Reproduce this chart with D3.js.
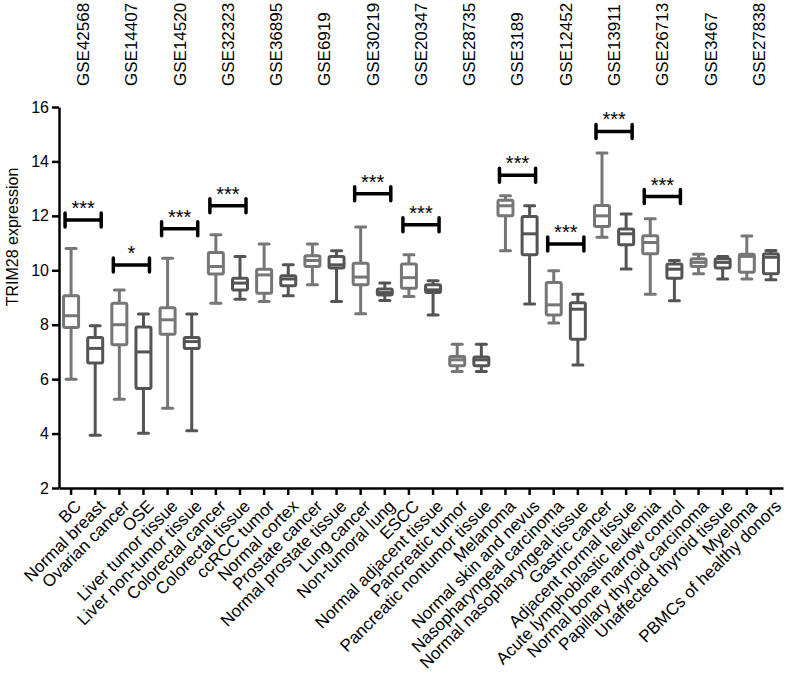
<!DOCTYPE html>
<html>
<head>
<meta charset="utf-8">
<script src="https://cdn.jsdelivr.net/npm/d3@7"></script>
<style>
  body { margin: 0; background: #fff; }
  text { font-family: "Liberation Sans", Arial, sans-serif; fill: #000; }
</style>
</head>
<body>
<script>
// categories along the x axis
const categories = ["BC", "Normal breast", "Ovarian cancer", "OSE", "Liver tumor tissue", "Liver non-tumor tissue",
  "Colorectal cancer", "Colorectal tissue", "ccRCC tumor", "Normal cortex", "Prostate cancer", "Normal prostate tissue",
  "Lung cancer", "Non-tumoral lung", "ESCC", "Normal adjacent tissue", "Pancreatic tumor", "Pancreatic nontumor tissue",
  "Melanoma", "Normal skin and nevus", "Nasopharyngeal carcinoma", "Normal nasopharyngeal tissue", "Gastric cancer",
  "Adjacent normal tissue", "Acute lymphoblastic leukemia", "Normal bone marrow control", "Papillary thyroid carcinoma",
  "Unaffected thyroid tissue", "Myeloma", "PBMCs of healthy donors"];

// one dataset per pair of categories
const datasets = ["GSE42568", "GSE14407", "GSE14520", "GSE32323", "GSE36895", "GSE6919", "GSE30219", "GSE20347",
  "GSE28735", "GSE3189", "GSE12452", "GSE13911", "GSE26713", "GSE3467", "GSE27838"];

// box plot values
const whiskerHigh = [10.8, 7.96, 9.28, 8.39, 10.44, 8.39, 11.31, 10.51, 10.97, 10.2, 10.97, 10.72, 11.59, 9.53, 10.57,
  9.62, 7.28, 7.28, 12.74, 12.37, 9.98, 9.12, 14.31, 12.07, 11.89, 10.36, 10.59, 10.51, 11.26, 10.73];
const q3 = [9.06, 7.53, 8.79, 7.92, 8.62, 7.53, 10.65, 9.71, 10.04, 9.8, 10.53, 10.51, 10.26, 9.31, 10.23,
  9.47, 6.83, 6.81, 12.57, 11.98, 9.55, 8.81, 12.38, 11.52, 11.27, 10.23, 10.42, 10.42, 10.59, 10.61];
const median = [8.33, 7.13, 8.0, 7.0, 8.18, 7.38, 10.14, 9.53, 9.83, 9.68, 10.36, 10.2, 9.75, 9.18, 9.73,
  9.28, 6.71, 6.71, 12.37, 11.34, 8.73, 8.57, 12.0, 11.34, 11.02, 10.04, 10.29, 10.29, 10.51, 10.48];
const q1 = [7.9, 6.59, 7.26, 5.66, 7.65, 7.13, 9.86, 9.28, 9.16, 9.43, 10.14, 10.08, 9.47, 9.09, 9.34,
  9.18, 6.49, 6.49, 12.0, 10.57, 8.36, 7.47, 11.61, 10.94, 10.61, 9.71, 10.14, 10.08, 9.93, 9.87];
const whiskerLow = [6.0, 3.94, 5.26, 4.01, 4.93, 4.1, 8.79, 8.94, 8.85, 9.06, 9.47, 8.85, 8.4, 8.89, 9.04,
  8.36, 6.28, 6.28, 10.72, 8.76, 8.06, 6.52, 11.21, 10.05, 9.12, 8.88, 9.87, 9.68, 9.68, 9.65];

// significance brackets: first category index, bracket level, label
const sigFirst = [0, 2, 4, 6, 12, 14, 18, 20, 22, 24];
const sigLevel = [11.85, 10.19, 11.53, 12.37, 12.81, 11.67, 13.49, 10.97, 15.1, 12.71];
const sigLabel = ["***", "*", "***", "***", "***", "***", "***", "***", "***", "***"];

const yTicks = [2, 4, 6, 8, 10, 12, 14, 16];

const width = 789, height = 673;
const svg = d3.select("body").append("svg").attr("width", width).attr("height", height);

const x = d3.scaleBand().domain(categories).range([59, 783]).padding(0);
const y = d3.scaleLinear().domain([2, 16]).range([488, 107]);
const cx = (d) => x(d) + x.bandwidth() / 2;

const boxW = 15, capW = 10;
const lightGray = "#767676", darkGray = "#545454";

// y axis
const yAxis = svg.append("g")
    .attr("transform", "translate(59,0)")
    .call(d3.axisLeft(y).tickValues(yTicks).tickSize(7).tickSizeOuter(0).tickPadding(3));
yAxis.selectAll("path, line").attr("stroke", "#000").attr("stroke-width", 2.5);
yAxis.selectAll("text").attr("font-size", 16).attr("font-family", "Liberation Sans, Arial, sans-serif").attr("fill", "#000");

// x axis
const xAxis = svg.append("g")
    .attr("transform", "translate(0,488)")
    .call(d3.axisBottom(x).tickSize(7).tickSizeOuter(0).tickFormat(""));
xAxis.selectAll("path, line").attr("stroke", "#000").attr("stroke-width", 2.5);

// x labels
svg.append("g").selectAll("text")
    .data(categories)
    .enter()
    .append("text")
    .attr("transform", (d) => "translate(" + (cx(d) + 7) + ",503) rotate(-45)")
    .attr("text-anchor", "end")
    .attr("dy", "0.35em")
    .attr("font-size", 17)
    .text((d) => d);

// dataset labels on top
svg.append("g").selectAll("text")
    .data(datasets)
    .enter()
    .append("text")
    .attr("transform", (d, i) => "translate(" + ((cx(categories[2 * i]) + cx(categories[2 * i + 1])) / 2) + ",86) rotate(-90)")
    .attr("text-anchor", "start")
    .attr("dy", "0.35em")
    .attr("font-size", 17)
    .text((d) => d);

// axis title
svg.append("text")
    .attr("transform", "translate(12,237) rotate(-90)")
    .attr("text-anchor", "middle")
    .attr("dy", "0.35em")
    .attr("font-size", 16)
    .text("TRIM28 expression");

// boxes
const box = svg.append("g").selectAll("g")
    .data(categories)
    .enter()
    .append("g")
    .attr("stroke", (d, i) => i % 2 === 0 ? lightGray : darkGray)
    .attr("stroke-width", 3)
    .attr("fill", "none");

box.append("line")
    .attr("x1", (d) => cx(d)).attr("x2", (d) => cx(d))
    .attr("y1", (d, i) => y(whiskerHigh[i])).attr("y2", (d, i) => y(q3[i]));
box.append("line")
    .attr("x1", (d) => cx(d)).attr("x2", (d) => cx(d))
    .attr("y1", (d, i) => y(q1[i])).attr("y2", (d, i) => y(whiskerLow[i]));
box.append("line")
    .attr("stroke-linecap", "round")
    .attr("x1", (d) => cx(d) - capW / 2).attr("x2", (d) => cx(d) + capW / 2)
    .attr("y1", (d, i) => y(whiskerHigh[i])).attr("y2", (d, i) => y(whiskerHigh[i]));
box.append("line")
    .attr("stroke-linecap", "round")
    .attr("x1", (d) => cx(d) - capW / 2).attr("x2", (d) => cx(d) + capW / 2)
    .attr("y1", (d, i) => y(whiskerLow[i])).attr("y2", (d, i) => y(whiskerLow[i]));
box.append("rect")
    .attr("x", (d) => cx(d) - boxW / 2)
    .attr("width", boxW)
    .attr("y", (d, i) => y(q3[i]))
    .attr("height", (d, i) => y(q1[i]) - y(q3[i]))
    .attr("rx", 1.5)
    .attr("fill", "#fff");
box.append("line")
    .attr("x1", (d) => cx(d) - boxW / 2).attr("x2", (d) => cx(d) + boxW / 2)
    .attr("y1", (d, i) => y(median[i])).attr("y2", (d, i) => y(median[i]));

// significance brackets
const sig = svg.append("g").selectAll("g")
    .data(sigFirst)
    .enter()
    .append("g");

sig.append("path")
    .attr("fill", "none")
    .attr("stroke", "#000")
    .attr("stroke-width", 3.5)
    .attr("stroke-linecap", "round")
    .attr("d", (d, i) => {
        const x1 = cx(categories[d]) - 6, x2 = cx(categories[d + 1]) + 6, yy = y(sigLevel[i]);
        return "M" + x1 + "," + yy + "L" + x2 + "," + yy +
            "M" + x1 + "," + (yy - 7) + "L" + x1 + "," + (yy + 7) +
            "M" + x2 + "," + (yy - 7) + "L" + x2 + "," + (yy + 7);
    });

sig.append("text")
    .attr("x", (d) => (cx(categories[d]) + cx(categories[d + 1])) / 2)
    .attr("y", (d, i) => y(sigLevel[i]) - 5)
    .attr("text-anchor", "middle")
    .attr("font-size", 20)
    .text((d, i) => sigLabel[i]);
</script>
</body>
</html>
